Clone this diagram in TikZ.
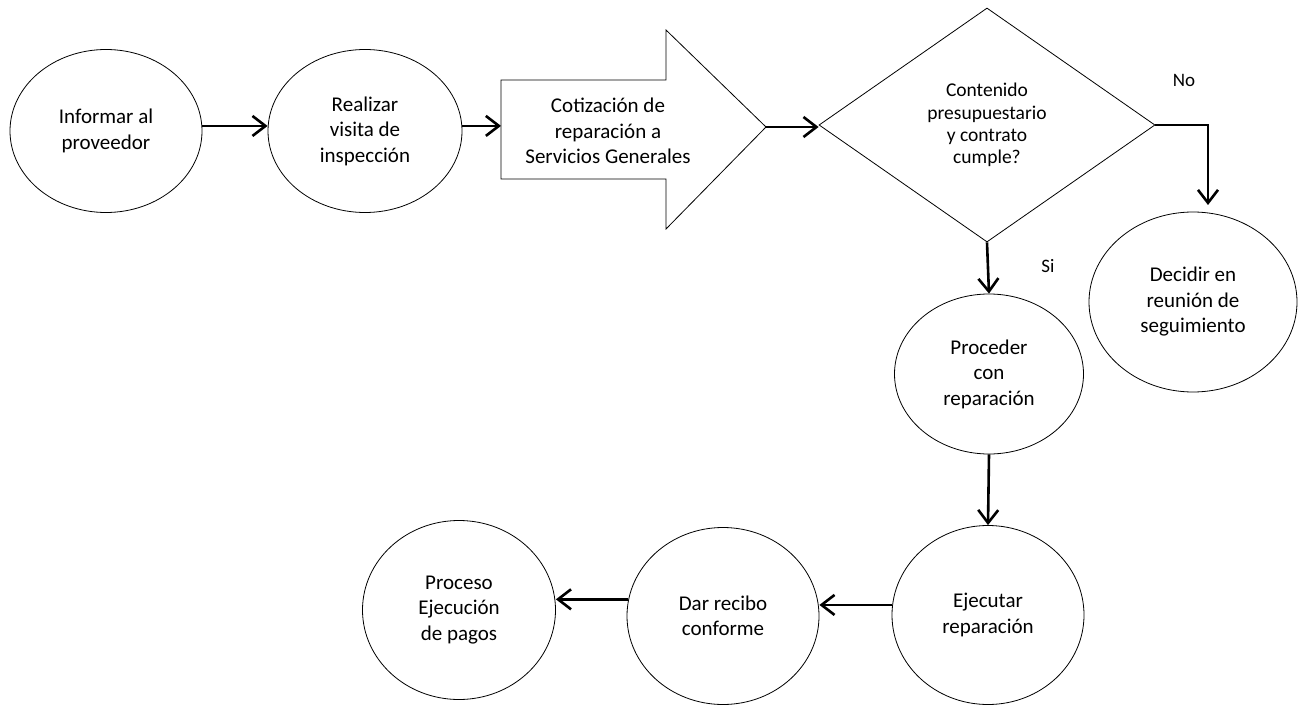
\documentclass[tikz,border=0pt]{standalone}
\usepackage{fontspec}
\setmainfont{Carlito}
\usetikzlibrary{shapes.geometric,arrows.meta,calc}
\begin{document}
\begin{tikzpicture}[x=1pt,y=-1pt,
  box/.style={ellipse,draw,line width=0.8pt,inner sep=0pt,align=center,font=\fontsize{21}{25.5}\selectfont},
  decision/.style={diamond,draw,line width=0.8pt,inner sep=0pt,align=center,font=\fontsize{19.5}{22.3}\selectfont},
  conn/.style={line width=2.6pt,-{Straight Barb[length=13pt,width=20pt]}},
  lbl/.style={font=\fontsize{19}{23}\selectfont,inner sep=0pt}]
\useasboundingbox (0,0) rectangle (1302,706);

\node[box,minimum width=192pt,minimum height=163pt] (inf) at (106,131) {Informar al\\proveedor};
\node[box,minimum width=194pt,minimum height=163pt] (rea) at (365,131) {Realizar\\visita de\\inspección};

\draw[line width=0.8pt] (501,80) -- (666,80) -- (666,30) -- (766,127) -- (666,229) -- (666,179) -- (501,179) -- cycle;
\node[align=center,inner sep=0pt,font=\fontsize{21}{25.5}\selectfont] (cot) at (608,131) {Cotización de\\reparación a\\Servicios Generales};
\coordinate (cotin) at (501,127);
\coordinate (cotout) at (766,127);

\node[decision,minimum width=336pt,minimum height=234pt] (dia) at (987,125) {Contenido\\presupuestario\\y contrato\\cumple?};

\node[box,minimum width=208pt,minimum height=180pt] (dec) at (1193,302) {Decidir en\\reunión de\\seguimiento};
\node[box,minimum width=189pt,minimum height=160pt] (pro) at (989,374) {Proceder\\con\\reparación};
\node[box,minimum width=192pt,minimum height=179pt] (eje) at (988,615) {Ejecutar\\reparación};
\node[box,minimum width=192pt,minimum height=177pt] (dar) at (723,616) {Dar recibo\\conforme};
\node[box,minimum width=193pt,minimum height=179pt] (pag) at (459,610) {Proceso\\Ejecución\\de pagos};

\node[lbl] (no) at (1184,80) {No};
\node[lbl] (si) at (1048,266) {Si};
\coordinate (noend) at (1208,205);

\draw[conn] (inf.3) -- (inf.3 -| rea.west);
\draw[conn] (rea.3) -- (rea.3 -| cotin);
\draw[conn] (cotout) -- (cotout -| dia.west);
\draw[conn] (dia.east) -| (noend);
\draw[conn] (dia.south) -- (pro.north);
\draw[conn] (pro.south) -- (eje.north);
\draw[conn] (eje.174.6) -- (eje.174.6 -| dar.east);
\draw[conn] (dar.170.5) -- (dar.170.5 -| pag.east);
\end{tikzpicture}
\end{document}
